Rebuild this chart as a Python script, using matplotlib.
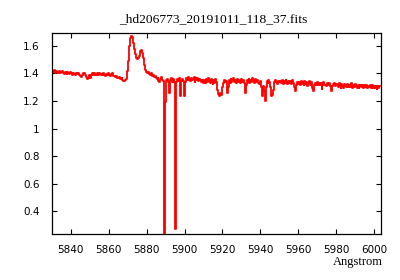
import numpy as np
import matplotlib
matplotlib.use("Agg")
from matplotlib import pyplot as plt
from matplotlib.ticker import FormatStrFormatter

title = "_hd206773_20191011_118_37.fits"
xlabel = "Angstrom"

# sampling grid of the spectrum (0.5 A steps)
wave = np.arange(5830.5, 6003.01, 0.5)

# flux, one row = 10 A
flux = [
    1.418, 1.408, 1.422, 1.404, 1.420, 1.410, 1.406, 1.419, 1.401, 1.414,
    1.421, 1.405, 1.398, 1.413, 1.402, 1.395, 1.410, 1.400, 1.394, 1.408,
    1.402, 1.392, 1.407, 1.396, 1.390, 1.404, 1.394, 1.406, 1.392, 1.382,
    1.374, 1.388, 1.400, 1.404, 1.393, 1.389, 1.374, 1.360, 1.370, 1.392,
    1.368, 1.386, 1.400, 1.390, 1.402, 1.392, 1.387, 1.400, 1.390, 1.404,
    1.393, 1.386, 1.399, 1.389, 1.402, 1.391, 1.385, 1.398, 1.388, 1.401,
    1.391, 1.384, 1.398, 1.402, 1.385, 1.380, 1.372, 1.382, 1.368, 1.364,
    1.376, 1.361, 1.357, 1.368, 1.352, 1.348, 1.342, 1.354, 1.360, 1.420,
    1.490, 1.600, 1.660, 1.675, 1.665, 1.620, 1.580, 1.545, 1.515, 1.505,
    1.510, 1.530, 1.550, 1.565, 1.570, 1.550, 1.510, 1.460, 1.425, 1.410,
    1.402, 1.412, 1.395, 1.388, 1.403, 1.382, 1.392, 1.372, 1.383, 1.366,
    1.357, 1.368, 1.342, 1.338, 1.358, 1.375, 1.356, 1.348, 0.233, 1.190,
    1.350, 1.360, 1.336, 1.260, 1.352, 1.364, 1.340, 1.358, 1.336, 0.270,
    0.970, 1.338, 1.360, 1.345, 1.366, 1.240, 1.342, 1.360, 1.347, 1.240,
    1.335, 1.370, 1.350, 1.374, 1.356, 1.342, 1.368, 1.350, 1.362, 1.372,
    1.340, 1.364, 1.350, 1.368, 1.344, 1.362, 1.352, 1.338, 1.354, 1.334,
    1.352, 1.334, 1.360, 1.340, 1.364, 1.346, 1.332, 1.358, 1.340, 1.322,
    1.352, 1.334, 1.358, 1.340, 1.280, 1.250, 1.240, 1.260, 1.245, 1.300,
    1.328, 1.354, 1.336, 1.348, 1.260, 1.300, 1.354, 1.334, 1.360, 1.340,
    1.352, 1.364, 1.338, 1.354, 1.332, 1.358, 1.340, 1.354, 1.334, 1.360,
    1.340, 1.354, 1.332, 1.260, 1.316, 1.354, 1.338, 1.360, 1.334, 1.352,
    1.338, 1.364, 1.346, 1.332, 1.360, 1.340, 1.354, 1.334, 1.322, 1.348,
    1.300, 1.240, 1.310, 1.270, 1.200, 1.300, 1.342, 1.328, 1.354, 1.338,
    1.300, 1.240, 1.245, 1.280, 1.338, 1.354, 1.340, 1.324, 1.344, 1.338,
    1.344, 1.328, 1.350, 1.324, 1.342, 1.330, 1.350, 1.336, 1.322, 1.348,
    1.330, 1.344, 1.322, 1.350, 1.330, 1.300, 1.275, 1.316, 1.340, 1.326,
    1.340, 1.318, 1.344, 1.326, 1.338, 1.318, 1.344, 1.324, 1.340, 1.312,
    1.334, 1.344, 1.318, 1.338, 1.295, 1.270, 1.318, 1.334, 1.320, 1.340,
    1.320, 1.334, 1.314, 1.334, 1.285, 1.316, 1.336, 1.320, 1.314, 1.306,
    1.334, 1.314, 1.328, 1.308, 1.275, 1.306, 1.324, 1.330, 1.310, 1.326,
    1.324, 1.304, 1.330, 1.310, 1.298, 1.324, 1.306, 1.294, 1.324, 1.310,
    1.304, 1.324, 1.300, 1.318, 1.304, 1.328, 1.298, 1.318, 1.304, 1.324,
    1.306, 1.298, 1.318, 1.294, 1.312, 1.320, 1.300, 1.314, 1.294, 1.318,
    1.300, 1.314, 1.294, 1.312, 1.300, 1.320, 1.294, 1.314, 1.298, 1.312,
    1.296, 1.312, 1.290, 1.308, 1.296, 1.306,
]

xticks = [5840, 5860, 5880, 5900, 5920, 5940, 5960, 5980, 6000]
yticks = [0.4, 0.6, 0.8, 1.0, 1.2, 1.4, 1.6]

fig = plt.figure(figsize=(4, 2.8), dpi=100)
ax = fig.add_axes([0.131, 0.164, 0.821, 0.717])

ax.plot(wave, flux, color="#ff0000", lw=1.3, drawstyle="steps-mid")

ax.set_xlim(5830.3, 6003.5)
ax.set_ylim(0.233, 1.692)
ax.set_xticks(xticks)
ax.set_yticks(yticks)
ax.yaxis.set_major_formatter(FormatStrFormatter("%g"))
ax.tick_params(direction="in", top=True, right=True, length=3.5, width=0.8,
               labelsize=7.5, pad=8)
ax.tick_params(axis="y", pad=9)
for s in ax.spines.values():
    s.set_linewidth(0.9)

fig.text(0.534, 1 - 19 / 280, title, ha="center", va="center",
         family="Liberation Serif", fontsize=9.7)
fig.text(383 / 400, 1 - 262 / 280, xlabel, ha="right", va="center",
         family="Liberation Serif", fontsize=9)

fig.savefig("out.png", dpi=100)
